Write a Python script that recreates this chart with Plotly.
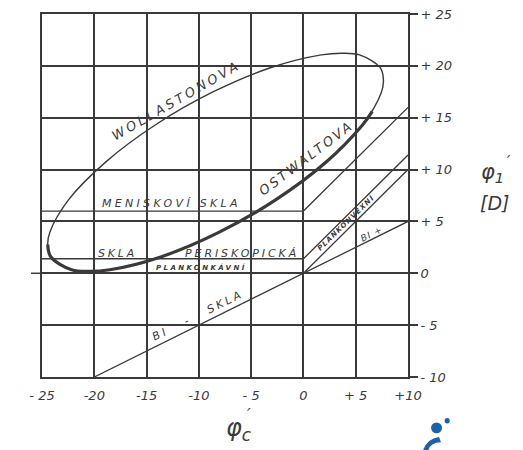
import plotly.graph_objects as go

# ---------------- data ----------------
x_tick_vals = [-25, -20, -15, -10, -5, 0, 5, 10]
x_tick_text = ["- 25", "-20", "-15", "-10", "- 5", "0", "+ 5", "+10"]
y_tick_vals = [-10, -5, 0, 5, 10, 15, 20, 25]
y_tick_text = ["- 10", "- 5", "0", "+ 5", "+ 10", "+ 15", "+ 20", "+ 25"]

# Tscherning ellipse outline (whole loop, thin)
ellipse_x = [7.36, 5.37, 3.72, 1.71, -3.16, -8.66, -14.14, -18.92, -22.43, -24.25,
             -24.45, -24.16, -22.17, -20.52, -18.51, -13.64, -8.14, -2.66, 2.12,
             5.63, 7.45, 7.65, 7.36]
ellipse_y = [19.80, 21.06, 21.22, 21.06, 19.82, 17.48, 14.32, 10.72, 7.12, 3.96,
             2.78, 1.60, 0.34, 0.18, 0.34, 1.58, 3.92, 7.08, 10.68,
             14.28, 17.44, 18.60, 19.80]

# Ostwalt branch (lower half, drawn thick)
ostwalt_x = [-24.45, -24.16, -22.17, -20.52, -18.51, -13.64, -8.14, -2.66, 2.12, 5.63, 6.58]
ostwalt_y = [2.78, 1.60, 0.34, 0.18, 0.34, 1.58, 3.92, 7.08, 10.68, 14.28, 15.62]

# region boundaries
menisc_x = [-25, 0, 10]
menisc_y = [6, 6, 16]
plano_x = [-25, 0, 10]
plano_y = [1.4, 1.4, 11.4]
planconvex_x = [0, 10]
planconvex_y = [0, 10]
bi_x = [-20, 0, 10]
bi_y = [-10, 0, 5]

INK = "#3a3a3a"
FONT = "DejaVu Sans"

fig = go.Figure()

def add_line(xs, ys, width, shape="linear"):
    fig.add_trace(go.Scatter(x=xs, y=ys, mode="lines",
                             line=dict(color=INK, width=width, shape=shape),
                             hoverinfo="skip", showlegend=False))

add_line(menisc_x, menisc_y, 1.3)
add_line(plano_x, plano_y, 1.3)
add_line(planconvex_x, planconvex_y, 1.3)
add_line(bi_x, bi_y, 1.3)
add_line(ellipse_x, ellipse_y, 1.4, "spline")
add_line(ostwalt_x, ostwalt_y, 3.2, "spline")

def lab(text, x, y, size, angle=0, spacing=0, bold=False):
    t = text
    if bold:
        t = "<b>" + t + "</b>"
    if spacing:
        t = '<span style="letter-spacing:%spx">%s</span>' % (spacing, t)
    fig.add_annotation(x=x, y=y, text=t, showarrow=False, textangle=angle,
                       xanchor="center", yanchor="middle",
                       font=dict(family=FONT, size=size, color=INK, style="italic"))

lab("WOLLASTONOVA", -12.2, 16.7, 13, -30, 3)
lab("OSTWALTOVA", 0.2, 11.1, 13, -37, 2.5)
lab("MENISKOVÍ SKLA", -12.6, 6.7, 11, 0, 3.3)
lab("SKLA", -17.8, 1.95, 11, 0, 2.8)
lab("PERISKOPICKÁ", -5.9, 1.95, 11, 0, 2.9)
lab("PLANKONKÁVNÍ", -9.7, 0.55, 7, 0, 2.4, True)
lab("BI   -   SKLA", -10.1, -4.1, 11, -26.4, 2.8)
lab("PLANKONVEXNÍ", 4.1, 4.85, 7, -44, 1.2, True)
lab("BI +", 6.5, 3.8, 9, -26, 1)

# axis titles (paper coordinates)
def plab(text, x, y, size):
    fig.add_annotation(x=x, y=y, xref="paper", yref="paper", text=text, showarrow=False,
                       xanchor="center", yanchor="middle",
                       font=dict(family=FONT, size=size, color=INK, style="italic"))

plab("φ<sub>c</sub>", 0.537, -0.145, 24)
plab("′", 0.566, -0.103, 16)
plab("φ<sub>1</sub>", 1.232, 0.562, 21)
plab("′", 1.277, 0.592, 15)
plab("[D]", 1.236, 0.48, 19)

# zero line extending left beyond the frame
fig.add_shape(type="line", xref="paper", yref="paper", x0=-0.03, x1=0, y0=10/35, y1=10/35,
              line=dict(color=INK, width=1.5))
# blue logo fragment (bottom right of the scan)
fig.add_shape(type="circle", xref="paper", yref="paper", x0=1.063, x1=1.093, y0=-0.155, y1=-0.125,
              fillcolor="#1b62a8", line=dict(width=0))
fig.add_shape(type="circle", xref="paper", yref="paper", x0=1.1, x1=1.114, y0=-0.128, y1=-0.113,
              fillcolor="#1b62a8", line=dict(width=0))
fig.add_shape(type="path", xref="paper", yref="paper",
              path="M 1.04 -0.205 Q 1.05 -0.17 1.085 -0.165 L 1.09 -0.18 Q 1.06 -0.18 1.055 -0.205 Z",
              fillcolor="#1b62a8", line=dict(width=0))

axis_common = dict(showgrid=True, gridcolor=INK, gridwidth=1.5, zeroline=False,
                   showline=True, linecolor=INK, linewidth=1.6, mirror=True,
                   tickfont=dict(family=FONT, size=13, color=INK, style="italic"),
                   ticklabeloverflow="allow", fixedrange=True)

fig.update_xaxes(range=[-25, 10], tickmode="array", tickvals=x_tick_vals, ticktext=x_tick_text,
                 ticks="", ticklabelstandoff=6, **axis_common)
fig.update_yaxes(range=[-10, 25], tickmode="array", tickvals=y_tick_vals, ticktext=y_tick_text,
                 side="right", ticks="outside", ticklen=8, tickwidth=1.5, tickcolor=INK,
                 **axis_common)

# the page body has an 8px default margin, so the figure is sized/offset to compensate
fig.update_layout(width=515, height=442, margin=dict(l=34, r=115, t=6, b=73, autoexpand=False),
                  paper_bgcolor="white", plot_bgcolor="white", showlegend=False)

fig.write_html("out.html")
